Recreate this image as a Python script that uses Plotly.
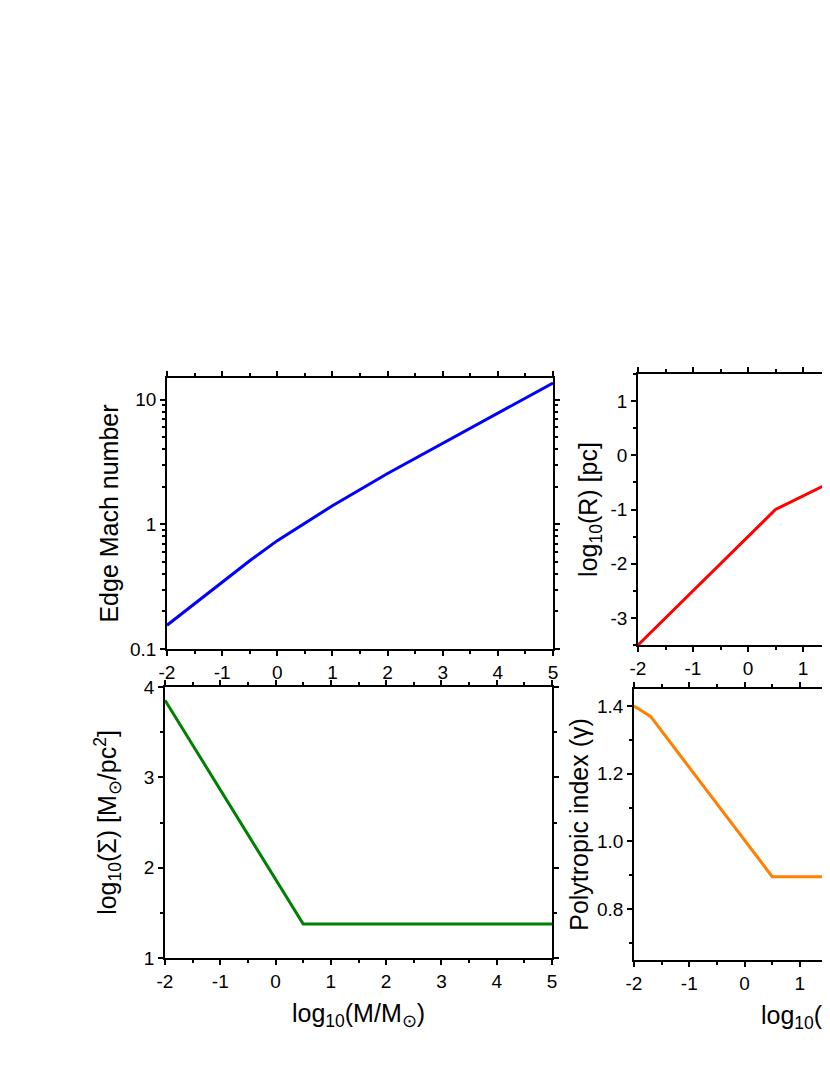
import plotly.graph_objects as go

# shared mass axis, log10(M/Msun)
mach_mass = [-2, -1.5, -1, -0.5, 0, 0.5, 1, 2, 3, 4, 5]
mach_values = [0.155, 0.23, 0.342, 0.51, 0.74, 1.02, 1.41, 2.56, 4.47, 7.9, 13.6]

radius_mass = [-2, 0.5, 5]
radius_values = [-3.5, -1.0, 1.25]

sigma_mass = [-2, 0.5, 5]
sigma_values = [3.854, 1.376, 1.376]

gamma_mass = [-2, -1.7, 0.5, 5]
gamma_values = [1.4, 1.369, 0.896, 0.896]

mass_ticks = [-2, -1, 0, 1, 2, 3, 4, 5]
radius_ticks = [-3, -2, -1, 0, 1]

W, H = 1100, 1075
OFF = 7  # page margin around the plot div
FONT = "Arial, Liberation Sans, sans-serif"


def dom_x(left, right):
    return [(left - OFF) / W, (right - OFF) / W]


def dom_y(top, bottom):
    return [1 - (bottom - OFF) / H, 1 - (top - OFF) / H]


def minor_ticks(**kw):
    return dict(ticks="outside", ticklen=3, tickwidth=1.5, tickcolor="black", **kw)


def axis_style(**kw):
    base = dict(
        showline=True, linecolor="black", linewidth=1.5, mirror="ticks",
        ticks="outside", ticklen=5, tickwidth=1.5, tickcolor="black",
        showgrid=False, zeroline=False, automargin=False,
        tickfont=dict(family=FONT, size=19, color="black"),
        title_font=dict(family=FONT, size=25, color="black"),
    )
    base.update(kw)
    return base


def mass_axis(domain, anchor, title=None):
    return axis_style(
        domain=domain, anchor=anchor, range=[-2, 5],
        tickvals=mass_ticks, ticktext=[str(v) for v in mass_ticks],
        minor=minor_ticks(dtick=0.5, tick0=0),
        title=dict(text=title, standoff=14) if title else None,
    )


fig = go.Figure()

fig.add_trace(go.Scatter(x=mach_mass, y=mach_values, mode="lines",
                         line=dict(color="#0000ff", width=3), xaxis="x", yaxis="y"))
fig.add_trace(go.Scatter(x=radius_mass, y=radius_values, mode="lines",
                         line=dict(color="#ff0000", width=3), xaxis="x2", yaxis="y2"))
fig.add_trace(go.Scatter(x=sigma_mass, y=sigma_values, mode="lines",
                         line=dict(color="#008000", width=3), xaxis="x3", yaxis="y3"))
fig.add_trace(go.Scatter(x=gamma_mass, y=gamma_values, mode="lines",
                         line=dict(color="#ff7f00", width=3), xaxis="x4", yaxis="y4"))

mass_title = "log<sub>10</sub>(M/M<sub>\u2299</sub>)"

fig.update_layout(
    width=W, height=H,
    margin=dict(l=0, r=0, t=0, b=0),
    paper_bgcolor="white", plot_bgcolor="white",
    showlegend=False,
    font=dict(family=FONT, color="black"),
    # top left: edge Mach number
    xaxis=mass_axis(dom_x(166, 552), "y"),
    yaxis=axis_style(
        domain=dom_y(377, 648), anchor="x", type="log",
        range=[-1, 1.174], tickvals=[0.1, 1, 10], ticktext=["0.1", "1", "10"],
        minor=minor_ticks(dtick="D1"),
        title=dict(text="Edge Mach number", standoff=4),
    ),
    # top right: radius
    xaxis2=mass_axis(dom_x(637, 1022), "y2"),
    yaxis2=axis_style(
        domain=dom_y(373, 644), anchor="x2", range=[-3.5, 1.5],
        tickvals=radius_ticks, ticktext=[str(v) for v in radius_ticks],
        minor=minor_ticks(dtick=0.5, tick0=0),
        title=dict(text="log<sub>10</sub>(R) [pc]", standoff=6),
    ),
    # bottom left: surface density
    xaxis3=mass_axis(dom_x(164, 551), "y3", mass_title),
    yaxis3=axis_style(
        domain=dom_y(686, 957), anchor="x3", range=[1, 4],
        tickvals=[1, 2, 3, 4],
        minor=minor_ticks(dtick=0.5, tick0=0),
        title=dict(text="log<sub>10</sub>(\u03a3) [M<sub>\u2299</sub>/pc<sup>2</sup>]", standoff=20),
    ),
    # bottom right: polytropic index
    xaxis4=mass_axis(dom_x(633, 1020), "y4", mass_title),
    yaxis4=axis_style(
        domain=dom_y(688, 959), anchor="x4", range=[0.65, 1.45],
        tickvals=[0.8, 1.0, 1.2, 1.4], ticktext=["0.8", "1.0", "1.2", "1.4"],
        minor=minor_ticks(dtick=0.1, tick0=0),
        title=dict(text="Polytropic index (\u03b3)", standoff=1),
    ),
)

fig.write_html("out.html")
